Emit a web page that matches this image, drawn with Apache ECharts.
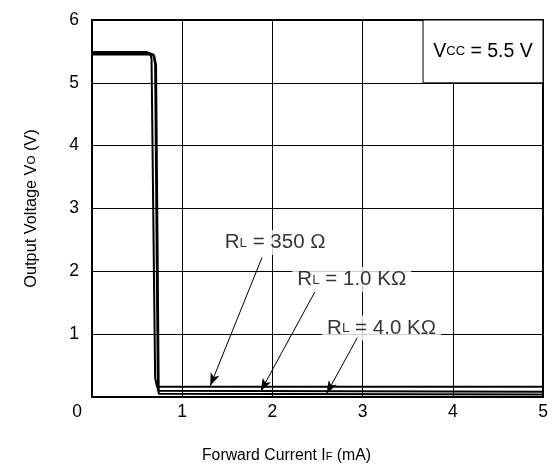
<!DOCTYPE html>
<html>
<head>
<meta charset="utf-8">
<script src="https://cdn.jsdelivr.net/npm/echarts@6/dist/echarts.min.js"></script>
<style>
html,body{margin:0;padding:0;background:#fff;}
#chart{width:556px;height:469px;}
</style>
</head>
<body>
<div id="chart"></div>
<script>
// ---- data ----
const xTicks = [0, 1, 2, 3, 4, 5];
const yTicks = [0, 1, 2, 3, 4, 5, 6];
const loadNames = ['350 Ω', '1.0 KΩ', '4.0 KΩ'];
const current350 = [0, 0.60, 0.645, 0.66, 0.70, 0.72, 5];
const voltage350 = [5.49, 5.49, 5.47, 5.38, 0.30, 0.165, 0.165];
const current1k  = [0, 0.63, 0.68, 0.70, 0.73, 0.75, 5];
const voltage1k  = [5.47, 5.47, 5.45, 5.30, 0.10, 0.085, 0.085];
const current4k  = [0, 0.63, 0.69, 0.71, 0.74, 0.76, 5];
const voltage4k  = [5.45, 5.45, 5.43, 5.28, 0.05, 0.04, 0.04];
const vccText = '5.5 V';

const zip = (xs, ys) => xs.map((x, i) => [x, ys[i]]);

// annotation placement (data coords)
const labelAt = [[2.03, 2.46], [2.88, 1.87], [3.21, 1.10]];
const arrows = [
  [[1.885, 2.22], [1.31, 0.175]],
  [[2.47, 1.67], [1.87, 0.09]],
  [[2.94, 0.94], [2.60, 0.05]]
];

const FONT = 'Liberation Sans, Arial, sans-serif';
const chart = echarts.init(document.getElementById('chart'));

const lineSeries = (data) => ({
  type: 'line', data: data, showSymbol: false, symbol: 'none',
  lineStyle: { color: '#000', width: 2 }, z: 5, animation: false
});

chart.setOption({
  animation: false,
  backgroundColor: '#fff',
  grid: { left: 92, right: 13, top: 20, bottom: 71, show: true, borderColor: '#000', borderWidth: 2, backgroundColor: 'transparent' },
  xAxis: {
    type: 'value', min: xTicks[0], max: xTicks[xTicks.length - 1], interval: 1,
    axisLine: { show: true, lineStyle: { color: '#000', width: 2 } },
    axisTick: { show: false },
    splitLine: { show: true, lineStyle: { color: '#000', width: 1 } },
    axisLabel: {
      color: '#000', fontFamily: FONT, fontSize: 17.5, margin: 6,
      formatter: v => v === 0 ? '{z|0}' : String(v),
      rich: { z: { fontFamily: FONT, fontSize: 17.5, color: '#000', padding: [0, 30, 0, 0] } }
    },
    name: '{t|Forward Current I}{s|F}{t| (mA)}',
    nameLocation: 'middle', nameGap: 51,
    nameTextStyle: {
      padding: [0, 62, 0, 0],
      rich: {
        t: { fontFamily: FONT, fontSize: 15.8, color: '#000' },
        s: { fontFamily: FONT, fontSize: 11, color: '#000', verticalAlign: 'bottom', padding: [0, 0, 2, 0] }
      }
    }
  },
  yAxis: {
    type: 'value', min: yTicks[0], max: yTicks[yTicks.length - 1], interval: 1,
    axisLine: { show: true, lineStyle: { color: '#000', width: 2 } },
    axisTick: { show: false },
    splitLine: { show: true, lineStyle: { color: '#000', width: 1 } },
    axisLabel: {
      color: '#000', fontFamily: FONT, fontSize: 17.5, margin: 13,
      formatter: v => v === 0 ? '' : String(v)
    },
    name: '{t|Output Voltage V}{s|O}{t| (V)}',
    nameLocation: 'middle', nameGap: 52, nameRotate: 90,
    nameTextStyle: {
      rich: {
        t: { fontFamily: FONT, fontSize: 16.3, color: '#000' },
        s: { fontFamily: FONT, fontSize: 11.5, color: '#000', verticalAlign: 'bottom', padding: [0, 0, 2, 0] }
      }
    }
  },
  series: [
    Object.assign(lineSeries(zip(current350, voltage350)), {
      markArea: {
        silent: true,
        itemStyle: { color: '#fff', borderColor: '#000', borderWidth: 1 },
        label: {
          show: true, position: 'inside',
          formatter: '{t|V}{s|CC}{t| = ' + vccText + '}',
          rich: {
            t: { fontFamily: FONT, fontSize: 19.5, color: '#000' },
            s: { fontFamily: FONT, fontSize: 13, color: '#000', verticalAlign: 'bottom', padding: [0, 0, 3, 0] }
          }
        },
        data: [[{ coord: [3.67, 5] }, { coord: [5, 6] }]]
      }
    }),
    lineSeries(zip(current1k, voltage1k)),
    lineSeries(zip(current4k, voltage4k)),
    {
      type: 'scatter', symbolSize: 0, z: 3, silent: true,
      data: labelAt.map((p, i) => ({ value: p, name: loadNames[i] })),
      label: {
        show: true, position: 'inside',
        backgroundColor: '#fff', padding: [2, 5, 2, 5],
        formatter: p => '{t|R}{s|L}{t| = ' + p.name + '}',
        rich: {
          t: { fontFamily: FONT, fontSize: 20.5, color: '#000' },
          s: { fontFamily: FONT, fontSize: 13.5, color: '#000', verticalAlign: 'bottom', padding: [0, 0, 3, 0] }
        }
      },
      markLine: {
        silent: true, symbol: ['none', 'arrow'], symbolSize: [7, 13],
        lineStyle: { color: '#000', width: 1, type: 'solid' },
        itemStyle: { color: '#000' },
        label: { show: false },
        data: arrows.map(a => [{ coord: a[0] }, { coord: a[1] }])
      }
    }
  ]
});
</script>
</body>
</html>
